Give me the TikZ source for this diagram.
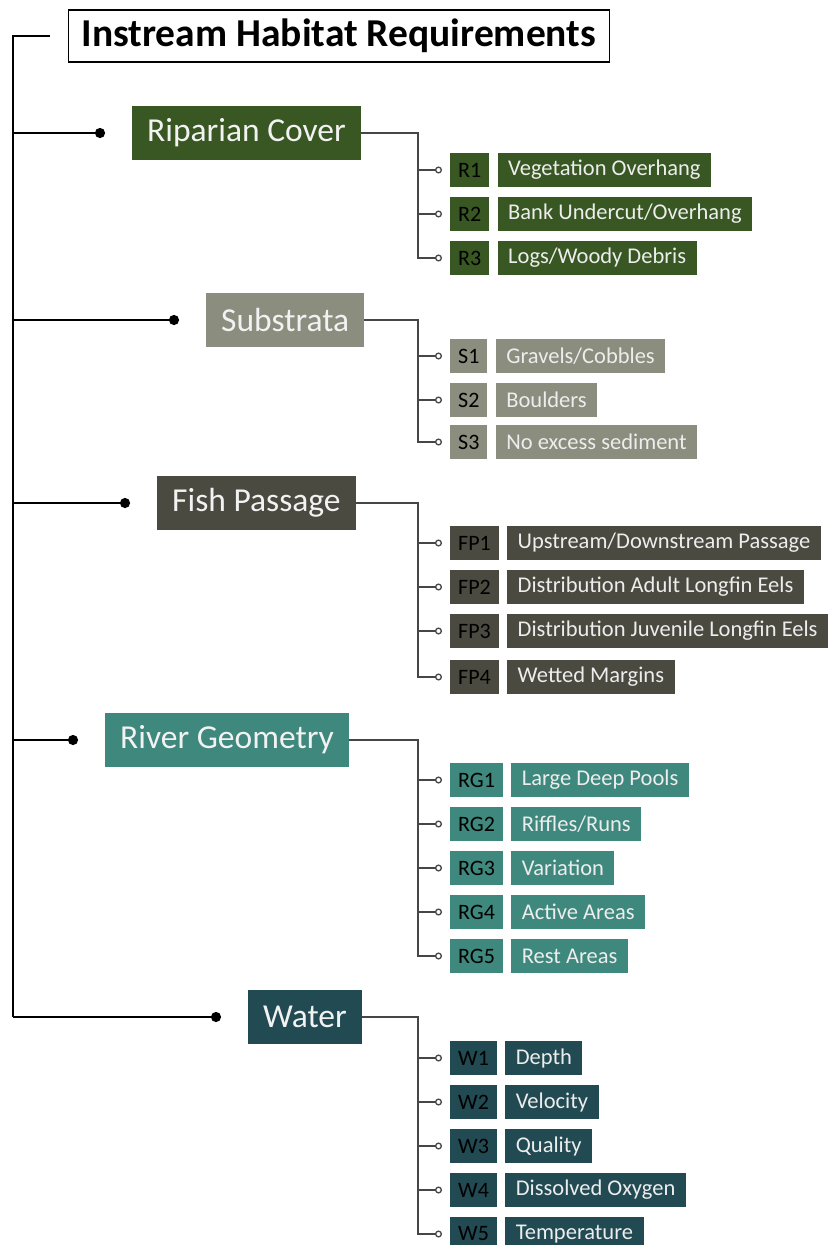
\documentclass[tikz,border=0pt]{standalone}
\usepackage{fontspec}
\setmainfont{Carlito}
\usetikzlibrary{positioning,arrows.meta}

\definecolor{riparian}{RGB}{56,87,35}
\definecolor{substrata}{RGB}{139,141,126}
\definecolor{fishpass}{RGB}{74,74,64}
\definecolor{geometry}{RGB}{63,136,126}
\definecolor{water}{RGB}{33,74,82}
\definecolor{linegray}{RGB}{70,70,70}

% one requirement: id box, label box and its connector
\newcommand{\habitem}[6]{%
  \node[idbox, fill=#6, anchor=west] (#2) at (450,#3) {#4};
  \node[labbox, fill=#6, right=8pt of #2] (#2l) {#5};
  \draw[itemline] (#1.east) -| ([xshift=-32pt]#2.west) -- (#2.west);
}

\begin{document}
\begin{tikzpicture}[x=1pt, y=-1pt,
    title/.style={draw, line width=1.2pt, inner xsep=13pt, minimum height=52pt,
      font=\fontsize{39.5}{45}\selectfont\bfseries},
    catbox/.style={inner xsep=15pt, minimum height=54pt, text=white!95!black,
      font=\fontsize{33.5}{38}\selectfont},
    idbox/.style={inner xsep=8pt, minimum height=34pt, text=black,
      font=\fontsize{22}{26}\selectfont},
    labbox/.style={inner xsep=10.5pt, minimum height=34pt, text=white!93!black,
      font=\fontsize{22.5}{26}\selectfont},
    spine/.style={line width=2.5pt, black},
    branch/.style={line width=2.5pt, black, -{Circle[length=10pt]}, shorten >=27pt},
    itemline/.style={line width=1.3pt, linegray, -{Circle[open, length=7pt, width=7pt]}, shorten >=8pt}]
  \useasboundingbox (0,0) rectangle (831,1245);

  % Title and spine
  \node[title, anchor=west] (title) at (68,36) {Instream Habitat Requirements};
  \coordinate (spinebot) at (13,1017);
  \draw[spine, shorten <=18pt] (title.west) -| (spinebot);

  % Categories
  \node[catbox, fill=riparian, anchor=west] (rc) at (132,133) {Riparian Cover};
  \node[catbox, fill=substrata, anchor=west] (ss) at (206,320) {Substrata};
  \node[catbox, fill=fishpass, anchor=west] (fp) at (157,503) {Fish Passage};
  \node[catbox, fill=geometry, anchor=west] (rg) at (105,740) {River Geometry};
  \node[catbox, fill=water, anchor=west] (wa) at (248,1017) {Water};

  \draw[branch] (spinebot |- rc.west) -- (rc.west);
  \draw[branch] (spinebot |- ss.west) -- (ss.west);
  \draw[branch] (spinebot |- fp.west) -- (fp.west);
  \draw[branch] (spinebot |- rg.west) -- (rg.west);
  \draw[branch] (spinebot) -- (wa.west);

  % Riparian Cover
  \habitem{rc}{r1}{170}{R1}{Vegetation Overhang}{riparian}
  \habitem{rc}{r2}{214}{R2}{Bank Undercut/Overhang}{riparian}
  \habitem{rc}{r3}{258}{R3}{Logs/Woody Debris}{riparian}

  % Substrata
  \habitem{ss}{s1}{356}{S1}{Gravels/Cobbles}{substrata}
  \habitem{ss}{s2}{400}{S2}{Boulders}{substrata}
  \habitem{ss}{s3}{442}{S3}{No excess sediment}{substrata}

  % Fish Passage
  \habitem{fp}{fp1}{543}{FP1}{Upstream/Downstream Passage}{fishpass}
  \habitem{fp}{fp2}{587}{FP2}{Distribution Adult Longfin Eels}{fishpass}
  \habitem{fp}{fp3}{631}{FP3}{Distribution Juvenile Longfin Eels}{fishpass}
  \habitem{fp}{fp4}{677}{FP4}{Wetted Margins}{fishpass}

  % River Geometry
  \habitem{rg}{rg1}{780}{RG1}{Large Deep Pools}{geometry}
  \habitem{rg}{rg2}{824}{RG2}{Riffles/Runs}{geometry}
  \habitem{rg}{rg3}{868}{RG3}{Variation}{geometry}
  \habitem{rg}{rg4}{912}{RG4}{Active Areas}{geometry}
  \habitem{rg}{rg5}{956}{RG5}{Rest Areas}{geometry}

  % Water
  \habitem{wa}{w1}{1058}{W1}{Depth}{water}
  \habitem{wa}{w2}{1102}{W2}{Velocity}{water}
  \habitem{wa}{w3}{1146}{W3}{Quality}{water}
  \habitem{wa}{w4}{1190}{W4}{Dissolved Oxygen}{water}
  \habitem{wa}{w5}{1234}{W5}{Temperature}{water}
\end{tikzpicture}
\end{document}
